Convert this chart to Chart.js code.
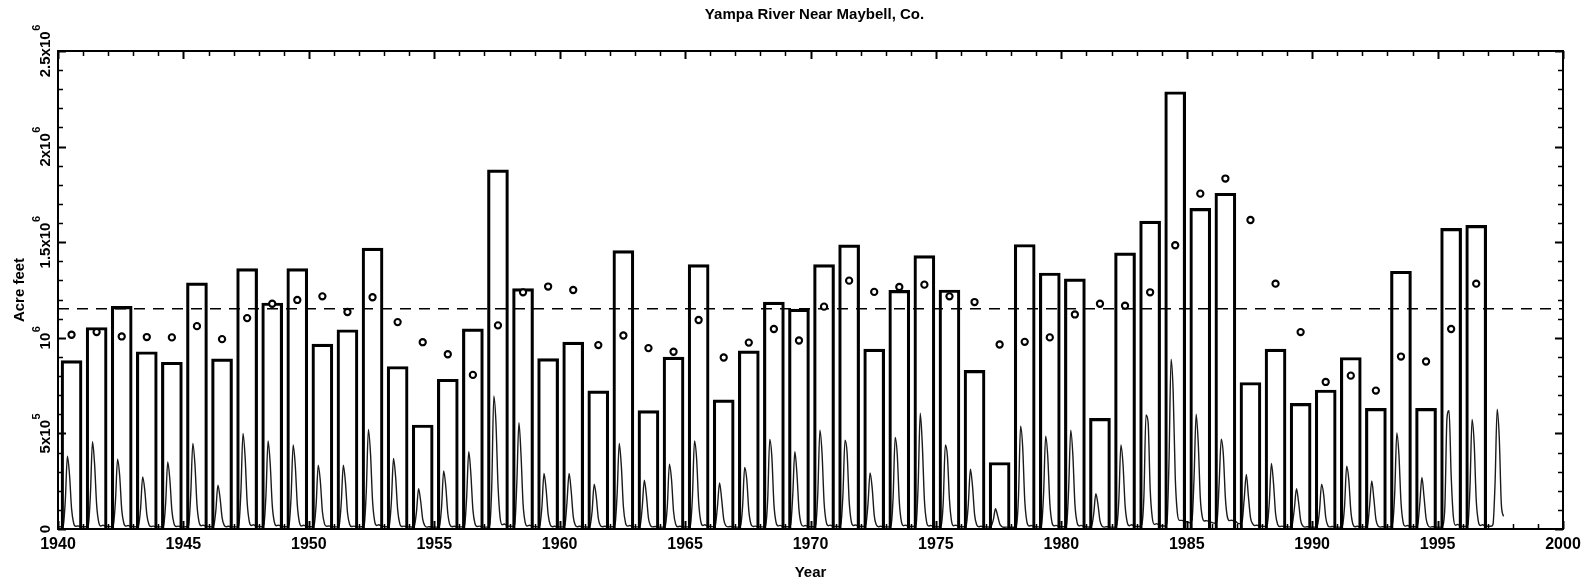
<!DOCTYPE html>
<html>
<head>
<meta charset="utf-8">
<script src="https://cdn.jsdelivr.net/npm/chart.js@4/dist/chart.umd.min.js"></script>
<style>
html,body{margin:0;padding:0;background:#fff;}
#wrap{width:1591px;height:585px;}
</style>
</head>
<body>
<div id="wrap"><canvas id="c" width="1591" height="585"></canvas></div>
<script>
const chartTitle = 'Yampa River Near Maybell, Co.';
const xAxisTitle = 'Year';
const yAxisTitle = 'Acre feet';

const years = [1940,1941,1942,1943,1944,1945,1946,1947,1948,1949,
  1950,1951,1952,1953,1954,1955,1956,1957,1958,1959,
  1960,1961,1962,1963,1964,1965,1966,1967,1968,1969,
  1970,1971,1972,1973,1974,1975,1976,1977,1978,1979,
  1980,1981,1982,1983,1984,1985,1986,1987,1988,1989,
  1990,1991,1992,1993,1994,1995,1996];

// annual flow, millions of acre-feet
const annualFlow = [0.881,1.054,1.164,0.927,0.872,1.287,0.890,1.362,1.182,1.362,
  0.967,1.042,1.469,0.850,0.544,0.783,1.047,1.878,1.257,0.891,
  0.977,0.722,1.456,0.619,0.899,1.383,0.675,0.932,1.187,1.150,
  1.383,1.486,0.941,1.248,1.430,1.250,0.830,0.348,1.488,1.339,
  1.308,0.579,1.444,1.610,2.287,1.677,1.756,0.766,0.941,0.657,
  0.727,0.897,0.631,1.348,0.631,1.572,1.588];

// circle markers, millions of acre-feet
const circleFlow = [1.016,1.030,1.007,1.004,1.002,1.061,0.993,1.103,1.178,1.198,
  1.217,1.135,1.212,1.082,0.977,0.914,0.806,1.065,1.238,1.268,
  1.250,0.962,1.012,0.946,0.927,1.093,0.897,0.975,1.046,0.986,
  1.163,1.299,1.240,1.266,1.278,1.217,1.187,0.965,0.979,1.002,
  1.122,1.178,1.168,1.238,1.484,1.754,1.833,1.616,1.283,1.030,
  0.769,0.802,0.724,0.902,0.876,1.046,1.283];

// long-term mean, millions of acre-feet
const meanFlow = 1.152;

// monthly flow, thousands of acre-feet, Jan..Dec
const monthlyYears = [1940,1941,1942,1943,1944,1945,1946,1947,1948,1949,
  1950,1951,1952,1953,1954,1955,1956,1957,1958,1959,
  1960,1961,1962,1963,1964,1965,1966,1967,1968,1969,
  1970,1971,1972,1973,1974,1975,1976,1977,1978,1979,
  1980,1981,1982,1983,1984,1985,1986,1987,1988,1989,
  1990,1991,1992,1993,1994,1995,1996,1997];
const monthlyFlow = [
  [12,11,18,150,381,285,105,30,14,16,14,12],
  [12,12,20,180,456,340,125,35,16,20,16,13],
  [13,12,22,150,365,280,100,30,15,18,15,13],
  [12,11,18,105,272,205,75,24,13,15,13,12],
  [11,11,17,135,351,260,95,28,13,15,13,11],
  [11,12,20,180,448,340,125,36,17,20,16,13],
  [12,11,18,95,229,165,60,20,12,14,12,11],
  [11,11,20,195,500,380,140,40,18,22,17,14],
  [13,12,22,180,461,345,125,36,17,20,16,13],
  [12,12,20,165,439,335,125,35,16,20,16,13],
  [12,12,20,130,334,250,90,27,14,16,14,12],
  [11,11,18,135,334,245,85,25,13,15,13,11],
  [11,12,22,200,521,395,145,40,18,22,17,14],
  [12,12,20,145,369,275,100,28,13,15,13,11],
  [11,10,17,90,211,145,50,17,10,12,11,10],
  [10,10,16,115,304,225,80,22,12,14,12,11],
  [11,11,18,165,404,290,100,28,13,15,13,11],
  [10,10,18,220,696,560,230,60,22,26,20,15],
  [14,13,24,240,556,390,130,35,16,20,16,13],
  [12,11,18,115,290,210,75,22,12,14,12,11],
  [11,11,20,140,290,200,65,20,12,14,12,11],
  [11,10,16,90,234,170,55,18,12,14,12,11],
  [11,12,25,185,448,330,115,32,15,18,15,12],
  [11,11,18,115,255,175,55,18,11,13,12,10],
  [10,10,16,120,339,260,90,25,12,14,12,11],
  [11,11,18,165,460,370,140,40,18,22,17,14],
  [13,12,22,120,241,155,50,17,11,13,12,11],
  [10,10,16,115,322,260,95,26,13,15,13,11],
  [11,11,18,150,469,380,130,36,16,19,15,12],
  [12,12,22,175,404,290,100,28,15,18,15,12],
  [12,12,20,190,517,400,140,38,17,20,16,13],
  [13,13,25,175,465,400,145,40,18,21,17,14],
  [13,13,24,130,293,215,70,22,12,14,12,11],
  [11,11,18,160,479,390,140,38,17,20,16,13],
  [13,13,22,230,605,440,150,40,16,18,15,12],
  [12,11,18,140,439,380,150,40,17,20,16,13],
  [12,12,20,130,313,225,75,22,12,14,12,11],
  [11,10,16,50,106,70,28,13,9,10,10,9],
  [9,9,16,170,538,430,150,38,16,18,15,12],
  [11,11,20,180,486,380,135,36,16,19,15,12],
  [12,12,22,210,517,390,130,36,16,19,15,12],
  [11,10,16,80,185,130,42,15,10,12,11,10],
  [10,10,18,150,439,340,125,36,17,22,18,14],
  [13,13,24,170,596,560,210,60,24,28,22,17],
  [16,16,30,350,888,720,270,85,45,45,42,40],
  [35,32,45,270,601,450,160,60,42,44,40,36],
  [32,30,45,240,470,390,160,60,44,46,42,38],
  [30,28,40,160,285,170,60,28,18,20,17,15],
  [14,13,22,140,343,240,80,24,13,15,13,12],
  [11,11,25,110,211,140,45,16,10,12,11,10],
  [10,10,18,95,234,180,60,18,11,13,12,10],
  [10,10,18,120,328,260,95,25,12,14,12,11],
  [11,11,20,125,251,160,50,16,10,12,11,10],
  [11,12,30,190,503,390,140,36,15,18,15,12],
  [12,12,22,135,269,170,55,17,10,12,11,10],
  [10,10,18,120,580,619,280,70,20,24,18,14],
  [13,13,22,220,573,450,150,40,18,22,18,14],
  [14,14,24,240,626,480,130,66]
];

const xTickValues = [1940,1945,1950,1955,1960,1965,1970,1975,1980,1985,1990,1995,2000];
const xTickLabels = ['1940','1945','1950','1955','1960','1965','1970','1975','1980','1985','1990','1995','2000'];
const yTickValues = [0,500000,1000000,1500000,2000000,2500000];
const yTickLabels = [['0',''],['5x10','5'],['10','6'],['1.5x10','6'],['2x10','6'],['2.5x10','6']];

const FONT = '"Liberation Sans", Arial, Helvetica, sans-serif';

// build library data from the arrays
const barPoints = years.map((yr, i) => ({x: yr + 0.54, y: annualFlow[i] * 1e6}));
const circlePoints = years.map((yr, i) => ({x: yr + 0.54, y: circleFlow[i] * 1e6}));
const hydroPoints = [];
monthlyYears.forEach((yr, i) => {
  monthlyFlow[i].forEach((v, m) => hydroPoints.push({x: yr + (m + 0.5) / 12, y: v * 1000}));
});
const meanPoints = [{x: 1940, y: meanFlow * 1e6}, {x: 2000, y: meanFlow * 1e6}];

const framePlugin = {
  id: 'frame',
  afterDraw(chart) {
    const {ctx, chartArea: a, scales: {x, y}} = chart;
    ctx.save();
    ctx.strokeStyle = '#000';
    ctx.fillStyle = '#000';
    // frame
    ctx.lineWidth = 2;
    ctx.strokeRect(a.left, a.top, a.right - a.left, a.bottom - a.top);
    // inward ticks on x (bottom and top)
    for (let v = x.min; v <= x.max; v += 1) {
      const px = Math.round(x.getPixelForValue(v)) + 0.5;
      const major = (v % 5 === 0);
      const len = major ? 8 : 5;
      ctx.lineWidth = major ? 2 : 1.5;
      ctx.beginPath();
      ctx.moveTo(px, a.bottom); ctx.lineTo(px, a.bottom - len);
      ctx.moveTo(px, a.top); ctx.lineTo(px, a.top + len);
      ctx.stroke();
    }
    // inward ticks on y (left and right)
    for (let k = 0; k <= 25; k++) {
      const v = k * 100000;
      const py = Math.round(y.getPixelForValue(v)) + 0.5;
      const major = (k % 5 === 0);
      const len = major ? 8 : 5;
      ctx.lineWidth = major ? 2 : 1.5;
      ctx.beginPath();
      ctx.moveTo(a.left, py); ctx.lineTo(a.left + len, py);
      ctx.moveTo(a.right, py); ctx.lineTo(a.right - len, py);
      ctx.stroke();
    }
    // y tick labels, rotated, with superscript exponents
    yTickValues.forEach((v, i) => {
      const py = y.getPixelForValue(v);
      const base = yTickLabels[i][0], exp = yTickLabels[i][1];
      ctx.font = 'bold 15px ' + FONT;
      const bw = ctx.measureText(base).width;
      ctx.font = 'bold 11px ' + FONT;
      const ew = exp ? ctx.measureText(exp).width + 0.5 : 0;
      const tot = bw + ew;
      ctx.save();
      ctx.translate(a.left - 8, py);
      ctx.rotate(-Math.PI / 2);
      ctx.textAlign = 'left';
      ctx.textBaseline = 'alphabetic';
      ctx.font = 'bold 15px ' + FONT;
      ctx.fillText(base, -tot / 2, 0);
      if (exp) {
        ctx.font = 'bold 11px ' + FONT;
        ctx.fillText(exp, -tot / 2 + bw + 0.5, -10);
      }
      ctx.restore();
    });
    // title
    ctx.font = 'bold 15px ' + FONT;
    ctx.textAlign = 'center';
    ctx.textBaseline = 'middle';
    ctx.fillText(chartTitle, (a.left + a.right) / 2 + 4, 15);
    ctx.restore();
  }
};

new Chart(document.getElementById('c'), {
  type: 'bar',
  data: {
    datasets: [
      {
        type: 'line', label: 'Monthly', data: hydroPoints,
        borderColor: '#1a1a1a', borderWidth: 1.4, pointRadius: 0,
        cubicInterpolationMode: 'monotone', fill: false, order: 3
      },
      {
        type: 'line', label: 'Mean', data: meanPoints,
        borderColor: '#000', borderWidth: 1.5, borderDash: [11, 8],
        pointRadius: 0, fill: false, order: 4
      },
      {
        type: 'bar', label: 'Annual', data: barPoints,
        backgroundColor: 'rgba(0,0,0,0)', borderColor: '#000',
        borderWidth: 2.5, barThickness: 21, order: 2
      },
      {
        type: 'line', label: 'Circles', data: circlePoints, showLine: false,
        pointRadius: 3.1, pointBorderWidth: 2.1, pointBackgroundColor: '#fff',
        pointBorderColor: '#000', order: 1
      }
    ]
  },
  options: {
    responsive: false,
    devicePixelRatio: 1,
    animation: false,
    layout: {padding: {top: 51, right: 28, left: 0, bottom: 0}},
    plugins: {legend: {display: false}, tooltip: {enabled: false}, title: {display: false}},
    scales: {
      x: {
        type: 'linear', min: 1940, max: 2000, offset: false,
        grid: {display: false, drawTicks: false},
        border: {display: false},
        afterBuildTicks: s => { s.ticks = xTickValues.map(v => ({value: v})); },
        ticks: {
          autoSkip: false, maxRotation: 0, minRotation: 0, padding: 6, color: '#000',
          font: {family: FONT, size: 16, weight: 'bold'},
          callback: v => xTickLabels[xTickValues.indexOf(v)]
        },
        title: {display: true, text: xAxisTitle, color: '#000',
          font: {family: FONT, size: 15, weight: 'bold'}, padding: {top: 0, bottom: 3}},
        afterFit: s => { s.height = 56; }
      },
      y: {
        type: 'linear', min: 0, max: 2500000,
        grid: {display: false, drawTicks: false},
        border: {display: false},
        ticks: {display: false},
        title: {display: true, text: yAxisTitle, color: '#000',
          font: {family: FONT, size: 15, weight: 'bold'}, padding: {top: 11, bottom: 0}},
        afterFit: s => { s.width = 58; }
      }
    }
  },
  plugins: [framePlugin]
});
</script>
</body>
</html>
